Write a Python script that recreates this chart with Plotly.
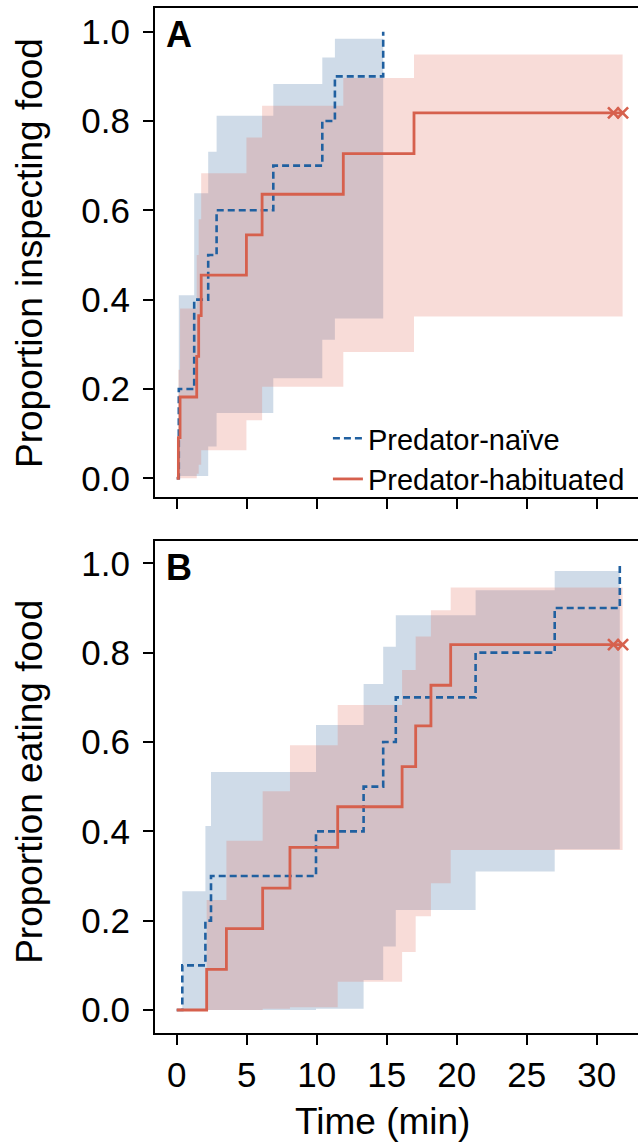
import plotly.graph_objects as go
from plotly.subplots import make_subplots

# ---------------- data ----------------
# Panel A: proportion inspecting food
naiveA_t = [0, 0.15, 1.25, 2.25, 2.85, 6.9, 10.4, 11.3, 14.75]
naiveA_p = [0, 0.2, 0.4, 0.5, 0.6, 0.7, 0.8, 0.9, 1.0]
naiveA_ci_t = [0.15, 1.25, 2.25, 2.85, 6.9, 10.4, 11.3, 14.75]
naiveA_lo = [0.005, 0.005, 0.071, 0.146, 0.224, 0.31, 0.358, 0.358]
naiveA_hi = [0.41, 0.638, 0.731, 0.812, 0.883, 0.942, 0.984, 0.984]

habA_t = [0, 0.12, 0.24, 1.43, 1.57, 1.75, 4.98, 6.1, 11.9, 16.95, 31.85]
habA_p = [0, 0.091, 0.182, 0.273, 0.364, 0.455, 0.545, 0.636, 0.727, 0.818, 0.818]
habA_ci_t = [0.12, 0.24, 1.43, 1.57, 1.75, 4.98, 6.1, 11.9, 16.95, 31.85]
habA_lo = [0.0, 0.0, 0.01, 0.03, 0.063, 0.13, 0.205, 0.283, 0.362, 0.362]
habA_hi = [0.243, 0.38, 0.5, 0.58, 0.683, 0.763, 0.834, 0.896, 0.949, 0.949]
habA_cens_t = [31.2, 31.85]
habA_cens_p = [0.818, 0.818]

# Panel B: proportion eating food
naiveB_t = [0, 0.4, 2.05, 2.45, 9.95, 13.35, 14.75, 15.65, 21.35, 27.0, 31.65]
naiveB_p = [0, 0.1, 0.2, 0.3, 0.4, 0.5, 0.6, 0.7, 0.8, 0.9, 1.0]
naiveB_ci_t = [0.4, 2.05, 2.45, 9.95, 13.35, 14.75, 15.65, 21.35, 27.0, 31.65]
naiveB_lo = [0.0, 0.0, 0.0, 0.003, 0.067, 0.142, 0.224, 0.31, 0.36, 0.36]
naiveB_hi = [0.266, 0.412, 0.533, 0.638, 0.73, 0.813, 0.884, 0.94, 0.983, 0.983]

habB_t = [0, 2.14, 3.55, 6.14, 8.09, 11.5, 16.1, 17.07, 18.16, 19.57, 31.85]
habB_p = [0, 0.091, 0.182, 0.273, 0.364, 0.455, 0.545, 0.636, 0.727, 0.818, 0.818]
habB_ci_t = [2.14, 3.55, 6.14, 8.09, 11.5, 16.1, 17.07, 18.16, 19.57, 31.85]
habB_lo = [0.0, 0.0, 0.003, 0.006, 0.063, 0.13, 0.21, 0.284, 0.358, 0.358]
habB_hi = [0.246, 0.379, 0.49, 0.593, 0.683, 0.761, 0.836, 0.895, 0.946, 0.946]
habB_cens_t = [31.2, 31.85]
habB_cens_p = [0.818, 0.818]

x_ticks = [0, 5, 10, 15, 20, 25, 30]
y_ticks = [0.0, 0.2, 0.4, 0.6, 0.8, 1.0]
series_names = ["Predator-naïve", "Predator-habituated"]

# ---------------- styling ----------------
BLUE = "#2060a0"
RED = "#d6604d"
BLUE_FILL = "rgba(70,115,165,0.26)"
RED_FILL = "rgba(225,110,90,0.24)"
FONT = "Liberation Sans, Arial, sans-serif"

fig = make_subplots(rows=2, cols=1, shared_xaxes=False, vertical_spacing=0.0)

panels = [
    (1, naiveA_t, naiveA_p, naiveA_ci_t, naiveA_lo, naiveA_hi,
     habA_t, habA_p, habA_ci_t, habA_lo, habA_hi, habA_cens_t, habA_cens_p),
    (2, naiveB_t, naiveB_p, naiveB_ci_t, naiveB_lo, naiveB_hi,
     habB_t, habB_p, habB_ci_t, habB_lo, habB_hi, habB_cens_t, habB_cens_p),
]

for (row, nt, npv, nct, nlo, nhi, ht, hp, hct, hlo, hhi, ct, cp) in panels:
    show = row == 1
    # naive band
    fig.add_trace(go.Scatter(x=nct, y=nlo, mode="lines", line=dict(width=0, shape="hv"),
                             hoverinfo="skip", showlegend=False), row=row, col=1)
    fig.add_trace(go.Scatter(x=nct, y=nhi, mode="lines", line=dict(width=0, shape="hv"),
                             fill="tonexty", fillcolor=BLUE_FILL,
                             hoverinfo="skip", showlegend=False), row=row, col=1)
    # habituated band
    fig.add_trace(go.Scatter(x=hct, y=hlo, mode="lines", line=dict(width=0, shape="hv"),
                             hoverinfo="skip", showlegend=False), row=row, col=1)
    fig.add_trace(go.Scatter(x=hct, y=hhi, mode="lines", line=dict(width=0, shape="hv"),
                             fill="tonexty", fillcolor=RED_FILL,
                             hoverinfo="skip", showlegend=False), row=row, col=1)
    # lines
    fig.add_trace(go.Scatter(x=nt, y=npv, mode="lines", name=series_names[0],
                             line=dict(color=BLUE, width=2.6, dash="7px,4px", shape="hv"),
                             showlegend=show), row=row, col=1)
    fig.add_trace(go.Scatter(x=ht, y=hp, mode="lines", name=series_names[1],
                             line=dict(color=RED, width=2.8, shape="hv"),
                             showlegend=show), row=row, col=1)
    fig.add_trace(go.Scatter(x=ct, y=cp, mode="markers",
                             marker=dict(symbol="x-thin", size=11,
                                         line=dict(color=RED, width=2.6)),
                             hoverinfo="skip", showlegend=False), row=row, col=1)

axis_common = dict(showline=True, linecolor="black", linewidth=2, ticks="outside",
                   ticklen=10, tickwidth=2, tickcolor="black", showgrid=False,
                   zeroline=False, tickfont=dict(family=FONT, size=35, color="black"))

fig.update_xaxes(range=[-1.55, 32.95], tickvals=x_ticks, mirror=True, **axis_common)
fig.update_xaxes(showticklabels=False, row=1, col=1)
fig.update_yaxes(tickvals=y_ticks, tickformat=".1f", mirror=False,
                 ticklabelstandoff=6, **axis_common)
fig.update_yaxes(range=[-0.042, 1.053], domain=[0.5229, 1.0], row=1, col=1)
fig.update_yaxes(range=[-0.0515, 1.050], domain=[0.0, 0.48], row=2, col=1)

annos = [
    dict(text="Proportion inspecting food", x=-0.2588, y=0.761, textangle=-90,
         font=dict(size=37)),
    dict(text="Proportion eating food", x=-0.2588, y=0.245, textangle=-90,
         font=dict(size=37)),
    dict(text="Time (min)", x=0.470, y=-0.0868, font=dict(size=37)),
    dict(text="<b>A</b>", x=0.019, y=0.974, xanchor="left", font=dict(size=36)),
    dict(text="<b>B</b>", x=0.019, y=0.4546, xanchor="left", font=dict(size=36)),
]
for a in annos:
    a.setdefault("xanchor", "center")
    a["font"] = dict(family=FONT, color="black", **a["font"])
    fig.add_annotation(xref="paper", yref="paper", yanchor="middle", showarrow=False, **a)

fig.update_layout(
    width=638, height=1142,
    margin=dict(l=155, r=0, t=8, b=109),
    plot_bgcolor="white", paper_bgcolor="white",
    legend=dict(x=0.358, xanchor="left", y=0.605, yanchor="top", traceorder="normal",
                bgcolor="rgba(0,0,0,0)", font=dict(family=FONT, size=29, color="black"),
                itemwidth=30, tracegroupgap=0),
    showlegend=True,
)

fig.write_html("out.html")
